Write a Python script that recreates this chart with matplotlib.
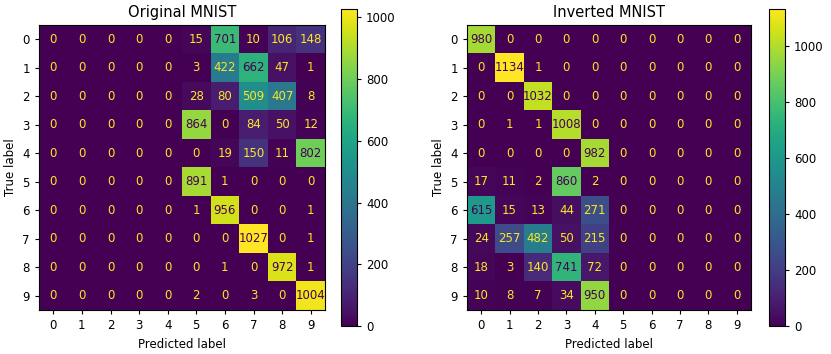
import numpy as np
import matplotlib
matplotlib.use("Agg")
import matplotlib.pyplot as plt

# confusion matrices
labels = [str(i) for i in range(10)]

original_cm = np.array([
    [0, 0, 0, 0, 0, 15, 701, 10, 106, 148],
    [0, 0, 0, 0, 0, 3, 422, 662, 47, 1],
    [0, 0, 0, 0, 0, 28, 80, 509, 407, 8],
    [0, 0, 0, 0, 0, 864, 0, 84, 50, 12],
    [0, 0, 0, 0, 0, 0, 19, 150, 11, 802],
    [0, 0, 0, 0, 0, 891, 1, 0, 0, 0],
    [0, 0, 0, 0, 0, 1, 956, 0, 0, 1],
    [0, 0, 0, 0, 0, 0, 0, 1027, 0, 1],
    [0, 0, 0, 0, 0, 0, 1, 0, 972, 1],
    [0, 0, 0, 0, 0, 2, 0, 3, 0, 1004],
])

inverted_cm = np.array([
    [980, 0, 0, 0, 0, 0, 0, 0, 0, 0],
    [0, 1134, 1, 0, 0, 0, 0, 0, 0, 0],
    [0, 0, 1032, 0, 0, 0, 0, 0, 0, 0],
    [0, 1, 1, 1008, 0, 0, 0, 0, 0, 0],
    [0, 0, 0, 0, 982, 0, 0, 0, 0, 0],
    [17, 11, 2, 860, 2, 0, 0, 0, 0, 0],
    [615, 15, 13, 44, 271, 0, 0, 0, 0, 0],
    [24, 257, 482, 50, 215, 0, 0, 0, 0, 0],
    [18, 3, 140, 741, 72, 0, 0, 0, 0, 0],
    [10, 8, 7, 34, 950, 0, 0, 0, 0, 0],
])

titles = ["Original MNIST", "Inverted MNIST"]

plt.rcParams['font.size'] = 8.5
plt.rcParams['xtick.major.size'] = 3
plt.rcParams['ytick.major.size'] = 3

fig = plt.figure(figsize=(8.31, 3.54), dpi=100)
W, H = 831, 354


def box(x0, y0, x1, y1):
    # pixel box (top-left origin) -> figure fraction rect
    return [x0 / W, 1 - y1 / H, (x1 - x0) / W, (y1 - y0) / H]


layout = [
    (box(39, 25, 325, 310), box(341, 9, 357, 326)),
    (box(467, 25, 751, 310), box(769, 9, 785, 326)),
]

cmap = plt.get_cmap("viridis")

for cm, title, (ax_rect, cax_rect) in zip([original_cm, inverted_cm], titles, layout):
    ax = fig.add_axes(ax_rect)
    cax = fig.add_axes(cax_rect)
    im = ax.imshow(cm, cmap=cmap, interpolation="nearest", aspect="auto")
    fig.colorbar(im, cax=cax)

    thresh = (cm.max() + cm.min()) / 2.0
    for i in range(cm.shape[0]):
        for j in range(cm.shape[1]):
            color = cmap(0) if cm[i, j] >= thresh else cmap(256)
            ax.text(j, i, str(cm[i, j]), ha="center", va="center", color=color)

    ax.set_xticks(range(10))
    ax.set_xticklabels(labels)
    ax.set_yticks(range(10))
    ax.set_yticklabels(labels)
    ax.set_xlabel("Predicted label")
    ax.set_ylabel("True label")
    ax.set_title(title, fontsize=10.5)

fig.savefig("out.png", dpi=100)
